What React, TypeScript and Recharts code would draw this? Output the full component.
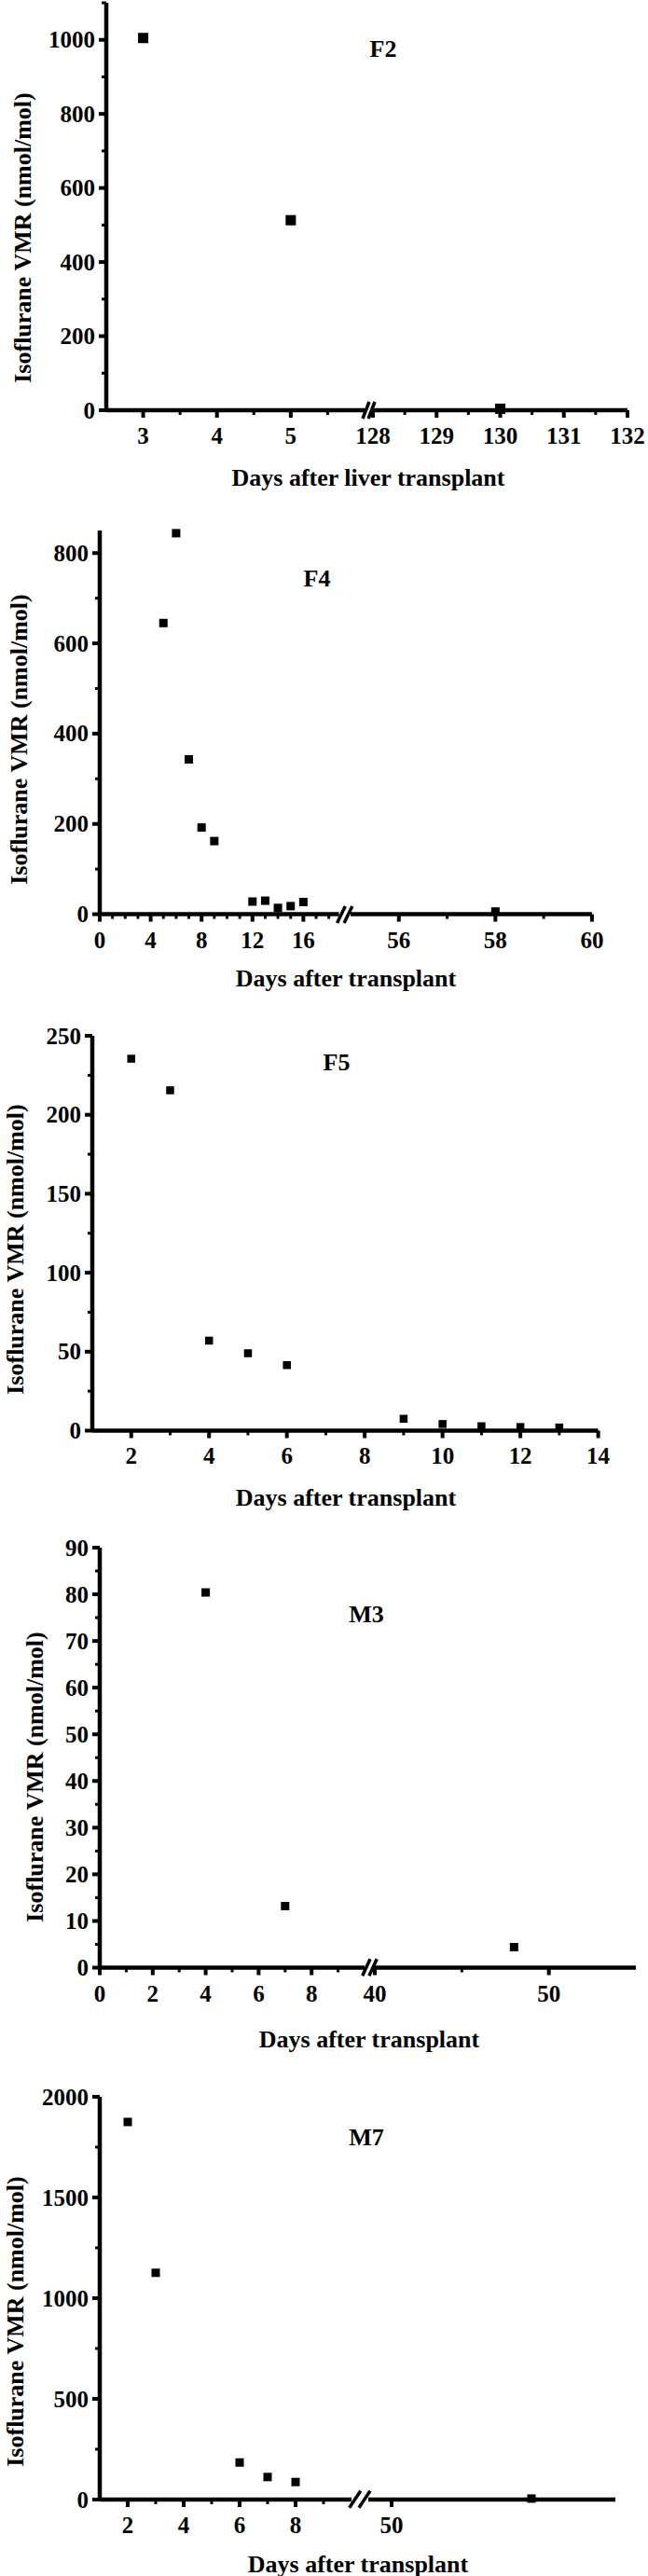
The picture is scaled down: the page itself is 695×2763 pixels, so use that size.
import { ScatterChart, Scatter, XAxis, YAxis } from 'recharts';

// F2
const F2_DAYS = [3, 5, 130];
const F2_VMR = [1005, 513, 4];
const F2_X_DOMAINS = [[2.5, 6], [128, 132]];
const F2_X_MAJOR = [[3, 4, 5], [128, 129, 130, 131, 132]];
const F2_X_MINOR = [[3.5, 4.5, 5.5], [128.5, 129.5, 130.5, 131.5]];
const F2_Y_MAJOR = [0, 200, 400, 600, 800, 1000];
const F2_Y_MINOR = [100, 300, 500, 700, 900, 1100];

// F4
const F4_DAYS = [5, 6, 7, 8, 9, 12, 13, 14, 15, 16, 58];
const F4_VMR = [645, 844, 343, 192, 162, 28, 30, 14, 18, 27, 6];
const F4_X_DOMAINS = [[0, 18.8], [55, 60]];
const F4_X_MAJOR = [[0, 4, 8, 12, 16], [56, 58, 60]];
const F4_X_MINOR = [[1, 2, 3, 5, 6, 7, 9, 10, 11, 13, 14, 15, 17, 18], [57, 59]];
const F4_Y_MAJOR = [0, 200, 400, 600, 800];
const F4_Y_MINOR = [100, 300, 500, 700];

// F5
const F5_DAYS = [2, 3, 4, 5, 6, 9, 10, 11, 12, 13];
const F5_VMR = [235.5, 215.5, 57, 49, 41.5, 7.5, 4.2, 2.8, 2.3, 2];
const F5_X_DOMAINS = [[1, 14]];
const F5_X_MAJOR = [[2, 4, 6, 8, 10, 12, 14]];
const F5_X_MINOR = [[3, 5, 7, 9, 11, 13]];
const F5_Y_MAJOR = [0, 50, 100, 150, 200, 250];
const F5_Y_MINOR = [25, 75, 125, 175, 225];

// M3
const M3_DAYS = [4, 7, 48];
const M3_VMR = [80.4, 13.2, 4.4];
const M3_X_DOMAINS = [[0, 10], [40, 55]];
const M3_X_MAJOR = [[0, 2, 4, 6, 8], [40, 50]];
const M3_X_MINOR = [[1, 3, 5, 7, 9], [45]];
const M3_Y_MAJOR = [0, 10, 20, 30, 40, 50, 60, 70, 80, 90];
const M3_Y_MINOR = [5, 15, 25, 35, 45, 55, 65, 75, 85];

// M7
const M7_DAYS = [2, 3, 6, 7, 8, 56];
const M7_VMR = [1875, 1126, 184, 112, 87, 5];
const M7_X_DOMAINS = [[1, 10], [49, 59.6]];
const M7_X_MAJOR = [[2, 4, 6, 8], [50]];
const M7_X_MINOR = [[3, 5, 7, 9], []];
const M7_Y_MAJOR = [0, 500, 1000, 1500, 2000];
const M7_Y_MINOR = [250, 750, 1250, 1750];

const Y_TITLE = 'Isoflurane VMR (nmol/mol)';

const PANELS = [
  { name: 'F2', xTitle: 'Days after liver transplant', days: F2_DAYS, vmr: F2_VMR, xDomains: F2_X_DOMAINS, xMajor: F2_X_MAJOR, xMinor: F2_X_MINOR, yMajor: F2_Y_MAJOR, yMinor: F2_Y_MINOR, yMax: 1100 },
  { name: 'F4', xTitle: 'Days after transplant', days: F4_DAYS, vmr: F4_VMR, xDomains: F4_X_DOMAINS, xMajor: F4_X_MAJOR, xMinor: F4_X_MINOR, yMajor: F4_Y_MAJOR, yMinor: F4_Y_MINOR, yMax: 850 },
  { name: 'F5', xTitle: 'Days after transplant', days: F5_DAYS, vmr: F5_VMR, xDomains: F5_X_DOMAINS, xMajor: F5_X_MAJOR, xMinor: F5_X_MINOR, yMajor: F5_Y_MAJOR, yMinor: F5_Y_MINOR, yMax: 250 },
  { name: 'M3', xTitle: 'Days after transplant', days: M3_DAYS, vmr: M3_VMR, xDomains: M3_X_DOMAINS, xMajor: M3_X_MAJOR, xMinor: M3_X_MINOR, yMajor: M3_Y_MAJOR, yMinor: M3_Y_MINOR, yMax: 90 },
  { name: 'M7', xTitle: 'Days after transplant', days: M7_DAYS, vmr: M7_VMR, xDomains: M7_X_DOMAINS, xMajor: M7_X_MAJOR, xMinor: M7_X_MINOR, yMajor: M7_Y_MAJOR, yMinor: M7_Y_MINOR, yMax: 2000 },
];

// page layout (px): plot top/bottom, segment extents, marker size, text anchors
const LAYOUTS = [
  { top: 3, bottom: 440, segs: [[114, 391], [400, 673]], marker: 11, label: [411, 52], xTitle: [395, 512], yTitle: [24, 255] },
  { top: 569.4, bottom: 981, segs: [[107, 363.6], [375.8, 634.7]], marker: 9, label: [340, 620], xTitle: [371, 1049], yTitle: [20, 793] },
  { top: 1110.5, bottom: 1534, segs: [[98.7, 641.3]], marker: 8.5, label: [361, 1139], xTitle: [371, 1606], yTitle: [16, 1340] },
  { top: 1659.7, bottom: 2110.2, segs: [[106.7, 390.7], [402.2, 682.2]], marker: 9, label: [393, 1731], xTitle: [396, 2187], yTitle: [37, 1906] },
  { top: 2248.7, bottom: 2680.7, segs: [[106.7, 376.7], [395, 660]], marker: 9, label: [393, 2292], xTitle: [384, 2750], yTitle: [16, 2490] },
];

const FONT = "'Liberation Serif', 'Times New Roman', serif";
const MT = 12;
const MR = 40;
const ML = 40;
const XH = 60;
const YW = 110;
const AXIS = { stroke: '#000', strokeWidth: 4.5 };

function XTick(props: any) {
  const { x, y, payload, majors } = props;
  const major = majors.includes(payload.value);
  return (
    <g>
      <line x1={x} x2={x} y1={y} y2={y + (major ? 8 : 5)} stroke="#000" strokeWidth={major ? 4 : 3} />
      {major && (
        <text x={x} y={y + 36} textAnchor="middle" fontFamily={FONT} fontWeight="bold" fontSize={25} fill="#000">
          {payload.value}
        </text>
      )}
    </g>
  );
}

function YTick(props: any) {
  const { x, y, payload, majors } = props;
  const major = majors.includes(payload.value);
  return (
    <g>
      <line x1={x - (major ? 8 : 5)} x2={x} y1={y} y2={y} stroke="#000" strokeWidth={major ? 4 : 3} />
      {major && (
        <text x={x - 12} y={y + 8.5} textAnchor="end" fontFamily={FONT} fontWeight="bold" fontSize={25} fill="#000">
          {payload.value}
        </text>
      )}
    </g>
  );
}

function Segment({ panel, layout, i }: any) {
  const [x0, x1] = layout.segs[i];
  const first = i === 0;
  const yw = first ? YW : 0;
  const ml = first ? 0 : ML;
  const dom = panel.xDomains[i];
  const data = panel.days
    .map((d: number, k: number) => ({ x: d, y: panel.vmr[k] }))
    .filter((p: any) => p.x >= dom[0] && p.x <= dom[1]);
  const xMajor = panel.xMajor[i];
  const xTicks = [...xMajor, ...panel.xMinor[i]].sort((a, b) => a - b);
  const yTicks = [...panel.yMajor, ...panel.yMinor].sort((a, b) => a - b);
  const s = layout.marker;
  return (
    <div style={{ position: 'absolute', left: x0 - yw - ml, top: layout.top - MT }}>
      <ScatterChart
        width={x1 - x0 + yw + ml + MR}
        height={layout.bottom - layout.top + MT + XH}
        margin={{ top: MT, right: MR, bottom: 0, left: ml }}
      >
        <XAxis
          type="number"
          dataKey="x"
          domain={dom}
          ticks={xTicks}
          interval={0}
          height={XH}
          tickSize={0}
          tickMargin={0}
          tickLine={false}
          axisLine={AXIS}
          tick={(p: any) => <XTick {...p} majors={xMajor} />}
        />
        <YAxis
          type="number"
          dataKey="y"
          domain={[0, panel.yMax]}
          hide={!first}
          width={yw}
          ticks={yTicks}
          interval={0}
          tickSize={0}
          tickMargin={0}
          tickLine={false}
          axisLine={AXIS}
          tick={(p: any) => <YTick {...p} majors={panel.yMajor} />}
        />
        <Scatter
          data={data}
          fill="#000"
          isAnimationActive={false}
          shape={(p: any) => <rect x={p.cx - s / 2} y={p.cy - s / 2} width={s} height={s} fill="#000" />}
        />
      </ScatterChart>
    </div>
  );
}

function Overlay() {
  return (
    <svg width={695} height={2763} style={{ position: 'absolute', left: 0, top: 0, pointerEvents: 'none' }}>
      {PANELS.map((panel, n) => {
        const L = LAYOUTS[n];
        const textProps = { fontFamily: FONT, fontWeight: 'bold', fill: '#000' };
        return (
          <g key={panel.name}>
            <text x={L.label[0]} y={L.label[1]} textAnchor="middle" dominantBaseline="central" fontSize={26} {...textProps}>
              {panel.name}
            </text>
            <text x={L.xTitle[0]} y={L.xTitle[1]} textAnchor="middle" dominantBaseline="central" fontSize={26} {...textProps}>
              {panel.xTitle}
            </text>
            <text
              x={L.yTitle[0]}
              y={L.yTitle[1]}
              textAnchor="middle"
              dominantBaseline="central"
              fontSize={26}
              transform={`rotate(-90 ${L.yTitle[0]} ${L.yTitle[1]})`}
              {...textProps}
            >
              {Y_TITLE}
            </text>
            {L.segs.length > 1 && (() => {
              const g0 = L.segs[0][1];
              const g1 = L.segs[1][0];
              const w = g1 - g0;
              const y = L.bottom;
              return (
                <g stroke="#000" strokeWidth={3.5}>
                  <line x1={g0 - 2} y1={y + 9} x2={g0 + w * 0.55} y2={y - 9} />
                  <line x1={g1 - w * 0.55} y1={y + 9} x2={g1 + 2} y2={y - 9} />
                </g>
              );
            })()}
          </g>
        );
      })}
    </svg>
  );
}

export default function App() {
  return (
    <div style={{ position: 'relative', width: 695, height: 2763, background: '#fff', overflow: 'hidden' }}>
      <style>{'body{margin:0}'}</style>
      {PANELS.map((panel, n) =>
        LAYOUTS[n].segs.map((_, i) => <Segment key={`${panel.name}-${i}`} panel={panel} layout={LAYOUTS[n]} i={i} />)
      )}
      <Overlay />
    </div>
  );
}
